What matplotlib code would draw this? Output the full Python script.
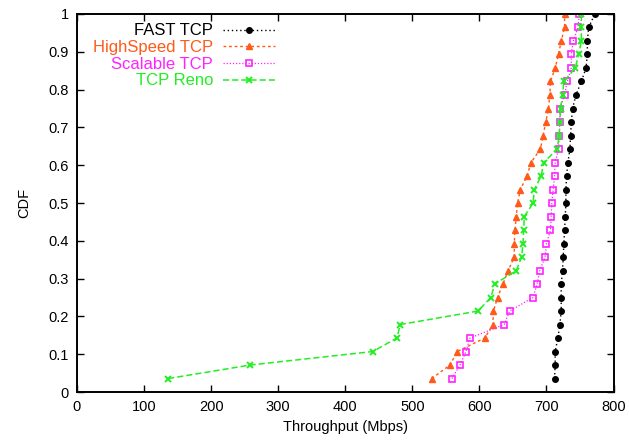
import numpy as np
import matplotlib
matplotlib.use("Agg")
import matplotlib.pyplot as plt

plt.rcParams['font.family'] = ['Liberation Sans', 'DejaVu Sans']

# Sorted throughput samples (Mbps) for each TCP variant; CDF levels are k/N
fast_tcp = [712, 713, 713, 717, 720, 722, 722, 722, 724, 725, 726, 727, 728, 729,
            729, 730, 732, 735, 736, 737, 739, 744, 752, 759, 761, 761, 763, 772]
highspeed_tcp = [529, 556, 567, 608, 620, 621, 627, 635, 643, 652, 652, 653, 655, 657,
                 661, 671, 677, 691, 695, 699, 703, 705, 706, 713, 718, 722, 727, 727]
scalable_tcp = [559, 571, 580, 586, 637, 645, 680, 686, 690, 698, 700, 706, 707, 708,
                710, 712, 713, 718, 719, 720, 720, 727, 731, 737, 737, 740, 747, 749]
tcp_reno = [136, 258, 441, 477, 482, 598, 617, 623, 655, 663, 665, 666, 667, 680,
            682, 692, 696, 716, 719, 720, 721, 724, 726, 743, 748, 752, 752, 752]

labels = ["FAST TCP", "HighSpeed TCP", "Scalable TCP", "TCP Reno"]
x_ticks = [0, 100, 200, 300, 400, 500, 600, 700, 800]
y_ticks = [0, 0.1, 0.2, 0.3, 0.4, 0.5, 0.6, 0.7, 0.8, 0.9, 1]
y_tick_labels = ["0", "0.1", "0.2", "0.3", "0.4", "0.5", "0.6", "0.7", "0.8", "0.9", "1"]

fig = plt.figure(figsize=(6.29, 4.44), dpi=100)
ax = fig.add_axes([0.1224, 0.117, 0.853, 0.8515])

def cdf(vals):
    n = len(vals)
    return np.arange(1, n + 1) / n

styles = [
    dict(color="black", linestyle=(0, (1, 2)), marker="o", markersize=4.0, lw=1.0),
    dict(color="#ff5a1a", linestyle=(0, (2, 2)), marker="^", markersize=5.0, lw=1.0),
    dict(color="#ff22ff", linestyle=(0, (1, 1.5)), marker="s", markersize=4.6, lw=0.9,
         markerfacecolor="none", markeredgewidth=1.2),
    dict(color="#22ee22", linestyle=(0, (4, 2)), marker="x", markersize=4.0, lw=1.1,
         markeredgewidth=1.4),
]

for vals, lab, st in zip([fast_tcp, highspeed_tcp, scalable_tcp, tcp_reno], labels, styles):
    ax.plot(vals, cdf(vals), label=lab, **st)

ax.set_xlim(0, 800)
ax.set_ylim(0, 1)
ax.set_xticks(x_ticks)
ax.set_yticks(y_ticks)
ax.set_yticklabels(y_tick_labels)
ax.tick_params(direction="in", top=True, right=True, length=5, width=1.0,
               labelsize=10.5, pad=6)
for s in ax.spines.values():
    s.set_linewidth(1.4)

ax.set_xlabel("Throughput (Mbps)", fontsize=10.5, labelpad=4)
ax.set_ylabel("CDF", fontsize=10.5, labelpad=12)

leg = ax.legend(loc="upper right", bbox_to_anchor=(0.384, 0.997), frameon=False,
                markerfirst=False, fontsize=12, handlelength=3.1, handletextpad=0.6,
                labelspacing=0.1, borderpad=0, labelcolor="linecolor")

fig.savefig("out.png", dpi=100)
